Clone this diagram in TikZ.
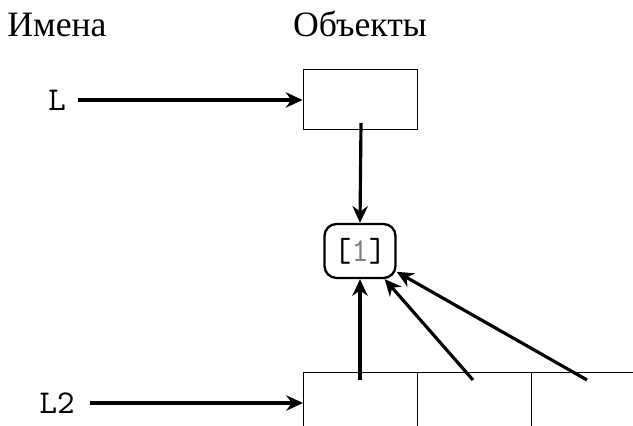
\documentclass[tikz,border=0pt]{standalone}
\usepackage{fontspec}
\newfontfamily\cyrfont{Liberation Serif}
\usetikzlibrary{arrows.meta}
\begin{document}
\begin{tikzpicture}[x=0.3pt,y=-0.3pt,
  conn/.style={line width=0.95pt,-{Stealth[length=5pt,width=4.6pt,inset=1.6pt]}},
  title/.style={anchor=base,font=\cyrfont\fontsize{10.7}{13}\selectfont},
  namelabel/.style={font=\ttfamily},
  objbox/.style={draw,line width=0.3pt,minimum width=34.2pt,minimum height=18pt,inner sep=0pt},
  refbox/.style={draw,line width=0.7pt,rounded corners=3.6pt,minimum width=21.3pt,minimum height=16.2pt,inner sep=0pt,font=\ttfamily},
  cell/.style={draw,line width=0.3pt,minimum width=34.2pt,minimum height=40pt,inner sep=0pt,anchor=north west}]
\useasboundingbox (0,0) rectangle (633,426);
\node[title] (hn) at (57,37) {Имена};
\node[title] (ho) at (360,37) {Объекты};
\node[objbox] (t) at (360,100) {};
\node[namelabel] (l) at (57,100) {L};
\node[namelabel] (l2) at (57,403) {L2};
\node[refbox] (b) at (360,251) {[\textcolor{gray}{1}]};
\begin{scope}
\clip (0,0) rectangle (633,426);
\node[cell] (c1) at (303,372) {};
\node[cell] (c2) at (417,372) {};
\node[cell] (c3) at (531,372) {};
\end{scope}
\coordinate (ts) at (361,123);
\coordinate (s1) at (360,380);
\coordinate (s2) at (473,380);
\coordinate (s3) at (587,380);
\draw[conn] (l) -- (t.west);
\draw[conn] (l2.east) ++(4,0) coordinate (l2s) -- (c1.west |- l2s);
\draw[conn] (ts) -- (b.north);
\draw[conn] (s1) -- (b.south);
\draw[conn] (s2) -- (b);
\draw[conn] (s3) -- (b);
\end{tikzpicture}
\end{document}
